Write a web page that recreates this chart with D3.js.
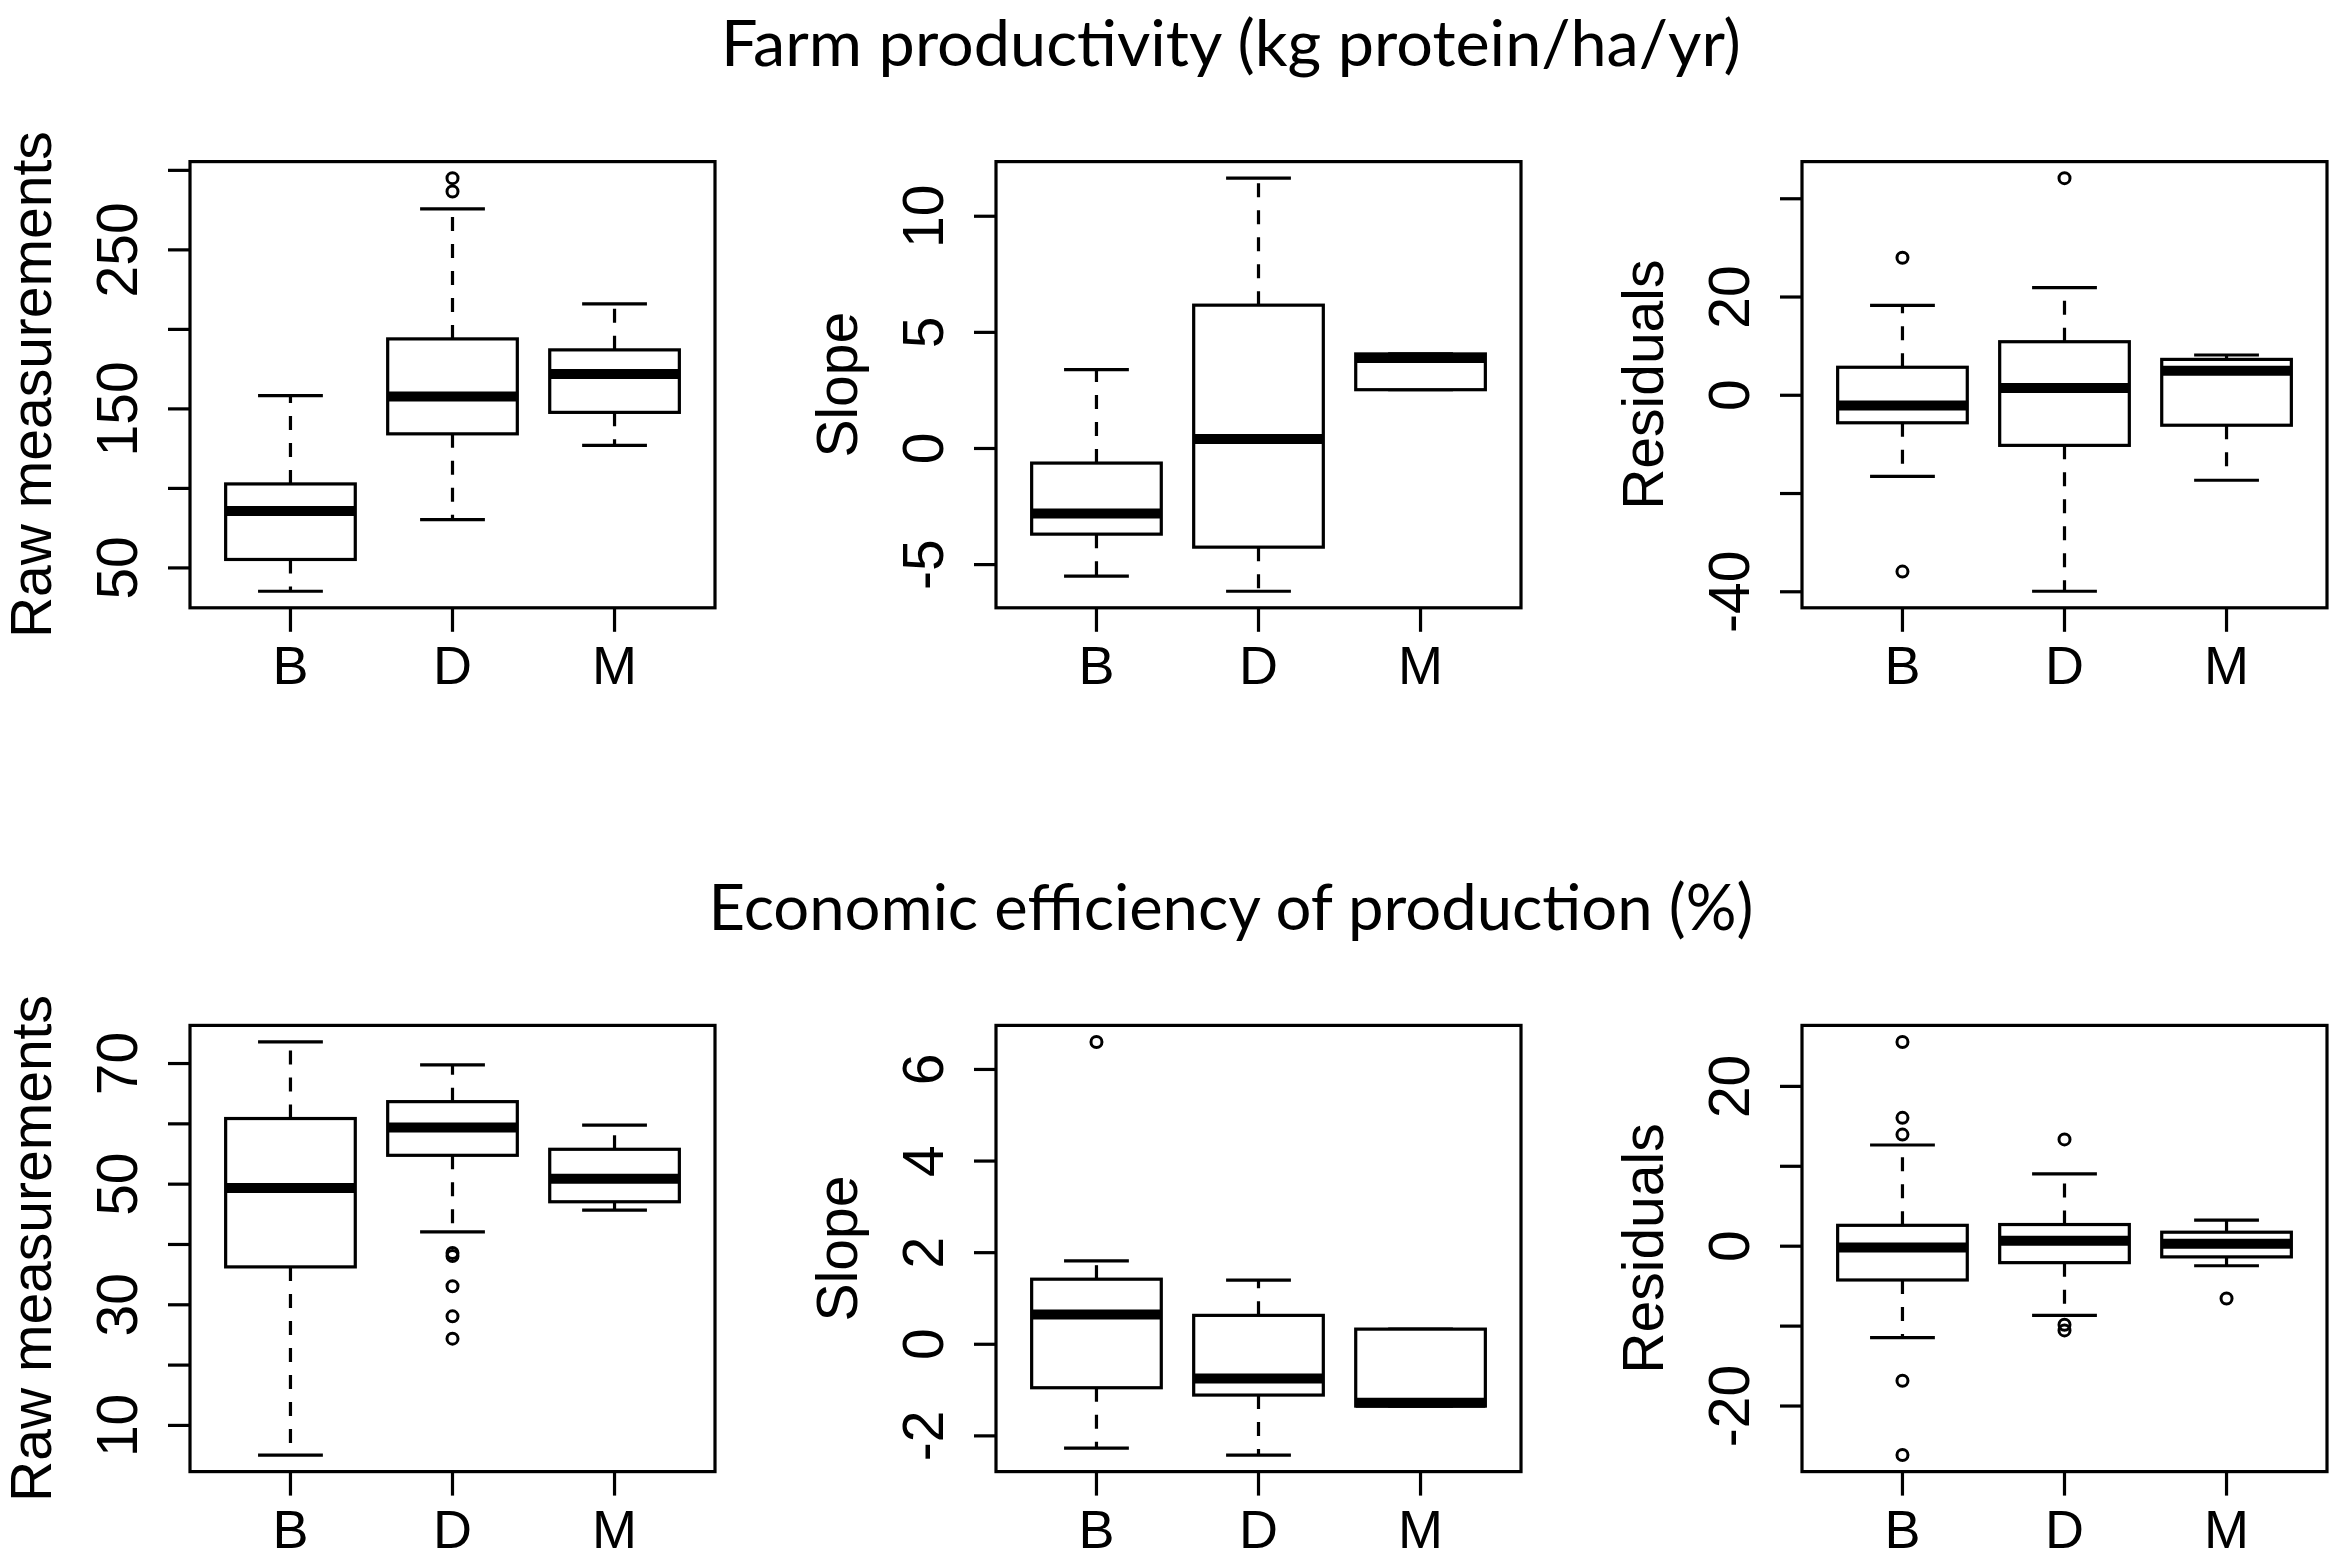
<!DOCTYPE html>
<html lang="en">
  <head>
    <meta charset="UTF-8" />
    <title>Farm productivity and economic efficiency</title>
    <style>
      body { margin: 0; background: #fff; }
      svg { display: block; }
    </style>
  </head>
  <body>
    <div id="chart"></div>

    <script src="https://d3js.org/d3.v7.min.js"></script>

    <script>

      // ---- data ----
      const categories = ["B", "D", "M"];
      const rowTitles = ["Farm productivity (kg protein/ha/yr)", "Economic efficiency of production (%)"];
      const yTitles = ["Raw measurements", "Slope", "Residuals"];

      // stats per category: [lower whisker, Q1, median, Q3, upper whisker]
      const farmRaw = [[35, 55, 85.5, 102.5, 158], [80, 134, 157.5, 193.7, 275.5], [126.8, 147.5, 171.7, 186.8, 215.7]];
      const farmRawOut = [[], [286.4, 294.8], []];
      const farmRawTicks = [50, 100, 150, 200, 250, 300];
      const farmRawLabels = ["50", "", "150", "", "250", ""];

      const farmSlope = [[-5.52, -3.71, -2.82, -0.65, 3.37], [-6.17, -4.27, 0.39, 6.15, 11.62], [2.51, 2.51, 3.88, 4.05, 4.05]];
      const farmSlopeOut = [[], [], []];
      const farmSlopeTicks = [-5, 0, 5, 10];
      const farmSlopeLabels = ["-5", "0", "5", "10"];

      const farmResid = [[-16.6, -5.7, -2.2, 5.6, 18.2], [-40.0, -10.3, 1.4, 10.8, 21.8], [-17.4, -6.2, 4.9, 7.2, 8.1]];
      const farmResidOut = [[27.9, -36.0], [44.1], []];
      const farmResidTicks = [-40, -20, 0, 20, 40];
      const farmResidLabels = ["-40", "", "0", "20", ""];

      const econRaw = [[5.0, 36.2, 49.3, 60.8, 73.5], [42.0, 54.7, 59.3, 63.6, 69.7], [45.6, 47.0, 50.8, 55.7, 59.7]];
      const econRawOut = [[], [38.5, 38.0, 33.0, 28.0, 24.3], []];
      const econRawTicks = [10, 20, 30, 40, 50, 60, 70];
      const econRawLabels = ["10", "", "30", "", "50", "", "70"];

      const econSlope = [[-2.28, -0.96, 0.64, 1.41, 1.81], [-2.43, -1.12, -0.76, 0.62, 1.39], [-1.36, -1.36, -1.29, 0.32, 0.32]];
      const econSlopeOut = [[6.59], [], []];
      const econSlopeTicks = [-2, 0, 2, 4, 6];
      const econSlopeLabels = ["-2", "0", "2", "4", "6"];

      const econResid = [[-11.5, -4.29, -0.24, 2.55, 12.6], [-8.72, -2.12, 0.63, 2.65, 9.0], [-2.51, -1.40, 0.24, 1.69, 3.2]];
      const econResidOut = [[25.5, 16.0, 13.9, -16.9, -26.2], [13.3, -9.9, -10.6], [-6.6]];
      const econResidTicks = [-20, -10, 0, 10, 20];
      const econResidLabels = ["-20", "", "0", "", "20"];

      const panels = [
        {row: 0, col: 0, stats: farmRaw, out: farmRawOut, ticks: farmRawTicks, labels: farmRawLabels},
        {row: 0, col: 1, stats: farmSlope, out: farmSlopeOut, ticks: farmSlopeTicks, labels: farmSlopeLabels},
        {row: 0, col: 2, stats: farmResid, out: farmResidOut, ticks: farmResidTicks, labels: farmResidLabels},
        {row: 1, col: 0, stats: econRaw, out: econRawOut, ticks: econRawTicks, labels: econRawLabels},
        {row: 1, col: 1, stats: econSlope, out: econSlopeOut, ticks: econSlopeTicks, labels: econSlopeLabels},
        {row: 1, col: 2, stats: econResid, out: econResidOut, ticks: econResidTicks, labels: econResidLabels}
      ];

      // ---- layout ----
      const width = 2333;
      const height = 1560;
      const panelLeft = [190, 996, 1802];
      const panelTop = [161.6, 1025.4];
      const panelW = 525;
      const panelH = 446.2;
      const titleY = [56, 930];
      const titleW = [1020, 1045];
      const titleX = 1231;

      const axisFont = "'Liberation Sans', Arial, Helvetica, sans-serif";
      const lw = 3.2;

      const svg = d3.select("#chart").append("svg")
          .attr("width", width)
          .attr("height", height)
          .attr("viewBox", [0, 0, width, height]);

      svg.append("rect").attr("width", width).attr("height", height).attr("fill", "#fff");

      // row titles (fit to the measured width, kept inside the top edge)
      rowTitles.forEach((t, i) => {
        const txt = svg.append("text")
            .attr("x", titleX)
            .attr("y", titleY[i])
            .attr("text-anchor", "middle")
            .attr("font-family", "Lato, 'Open Sans', sans-serif")
            .attr("font-size", 50)
            .attr("fill", "#000")
            .text(t);
        const len = txt.node().getComputedTextLength();
        txt.attr("font-size", 50 * titleW[i] / len);
        const bb = txt.node().getBBox();
        if (bb.y < 2) txt.attr("y", titleY[i] + 2 - bb.y);
      });

      panels.forEach(p => {
        const g = svg.append("g")
            .attr("transform", `translate(${panelLeft[p.col]},${panelTop[p.row]})`);

        // y domain like R: whiskers + outliers, padded 4%
        const all = p.stats.flat().concat(p.out.flat());
        const [lo, hi] = d3.extent(all);
        const pad = (hi - lo) * 0.04;

        const x = d3.scaleBand(categories, [0, panelW]).paddingInner(0.2).paddingOuter(0.22);
        const y = d3.scaleLinear([lo - pad, hi + pad], [panelH, 0]);

        const bw = x.bandwidth();

        // y axis
        g.append("g")
            .call(d3.axisLeft(y).tickValues(p.ticks).tickSize(22)
              .tickFormat((d, i) => p.labels[i]))
            .call(a => a.select(".domain").remove())
            .call(a => a.selectAll(".tick line").attr("stroke", "#000").attr("stroke-width", lw))
            .call(a => a.selectAll(".tick text")
                .attr("transform", "rotate(-90)")
                .attr("x", 0)
                .attr("y", -74)
                .attr("dy", "0.36em")
                .attr("text-anchor", "middle")
                .attr("font-family", axisFont)
                .attr("font-size", 57)
                .attr("fill", "#000"));

        // x axis
        g.append("g")
            .attr("transform", `translate(0,${panelH})`)
            .call(d3.axisBottom(x).tickSize(24))
            .call(a => a.select(".domain").remove())
            .call(a => a.selectAll(".tick line").attr("stroke", "#000").attr("stroke-width", lw))
            .call(a => a.selectAll(".tick text")
                .attr("y", 76)
                .attr("dy", 0)
                .attr("font-family", axisFont)
                .attr("font-size", 54)
                .attr("fill", "#000"));

        // y title
        g.append("text")
            .attr("transform", `translate(-139,${panelH / 2}) rotate(-90)`)
            .attr("text-anchor", "middle")
            .attr("font-family", axisFont)
            .attr("font-size", 57)
            .attr("fill", "#000")
            .text(yTitles[p.col]);

        const box = g.append("g")
            .selectAll("g")
            .data(categories)
            .join("g")
              .attr("transform", c => `translate(${x(c) + bw / 2},0)`);

        const s = (i, k) => p.stats[i][k];

        // whiskers (dashed)
        box.append("line")
            .attr("y1", (c, i) => y(s(i, 3)))
            .attr("y2", (c, i) => y(s(i, 4)))
            .attr("stroke", "#000").attr("stroke-width", lw).attr("stroke-dasharray", "14,13");
        box.append("line")
            .attr("y1", (c, i) => y(s(i, 1)))
            .attr("y2", (c, i) => y(s(i, 0)))
            .attr("stroke", "#000").attr("stroke-width", lw).attr("stroke-dasharray", "14,13");

        // whisker caps
        [0, 4].forEach(k => {
          box.append("line")
              .attr("x1", -bw / 4)
              .attr("x2", bw / 4)
              .attr("y1", (c, i) => y(s(i, k)))
              .attr("y2", (c, i) => y(s(i, k)))
              .attr("stroke", "#000").attr("stroke-width", lw);
        });

        // box
        box.append("rect")
            .attr("x", -bw / 2)
            .attr("width", bw)
            .attr("y", (c, i) => y(s(i, 3)))
            .attr("height", (c, i) => y(s(i, 1)) - y(s(i, 3)))
            .attr("fill", "#fff")
            .attr("stroke", "#000")
            .attr("stroke-width", lw);

        // median
        box.append("line")
            .attr("x1", -bw / 2)
            .attr("x2", bw / 2)
            .attr("y1", (c, i) => y(s(i, 2)))
            .attr("y2", (c, i) => y(s(i, 2)))
            .attr("stroke", "#000").attr("stroke-width", 10);

        // outliers
        box.selectAll("circle")
            .data((c, i) => p.out[i])
            .join("circle")
              .attr("cy", d => y(d))
              .attr("r", 5.5)
              .attr("fill", "none")
              .attr("stroke", "#000")
              .attr("stroke-width", 3);

        // frame
        g.append("rect")
            .attr("width", panelW)
            .attr("height", panelH)
            .attr("fill", "none")
            .attr("stroke", "#000")
            .attr("stroke-width", lw);
      });

    </script>
  </body>
</html>
